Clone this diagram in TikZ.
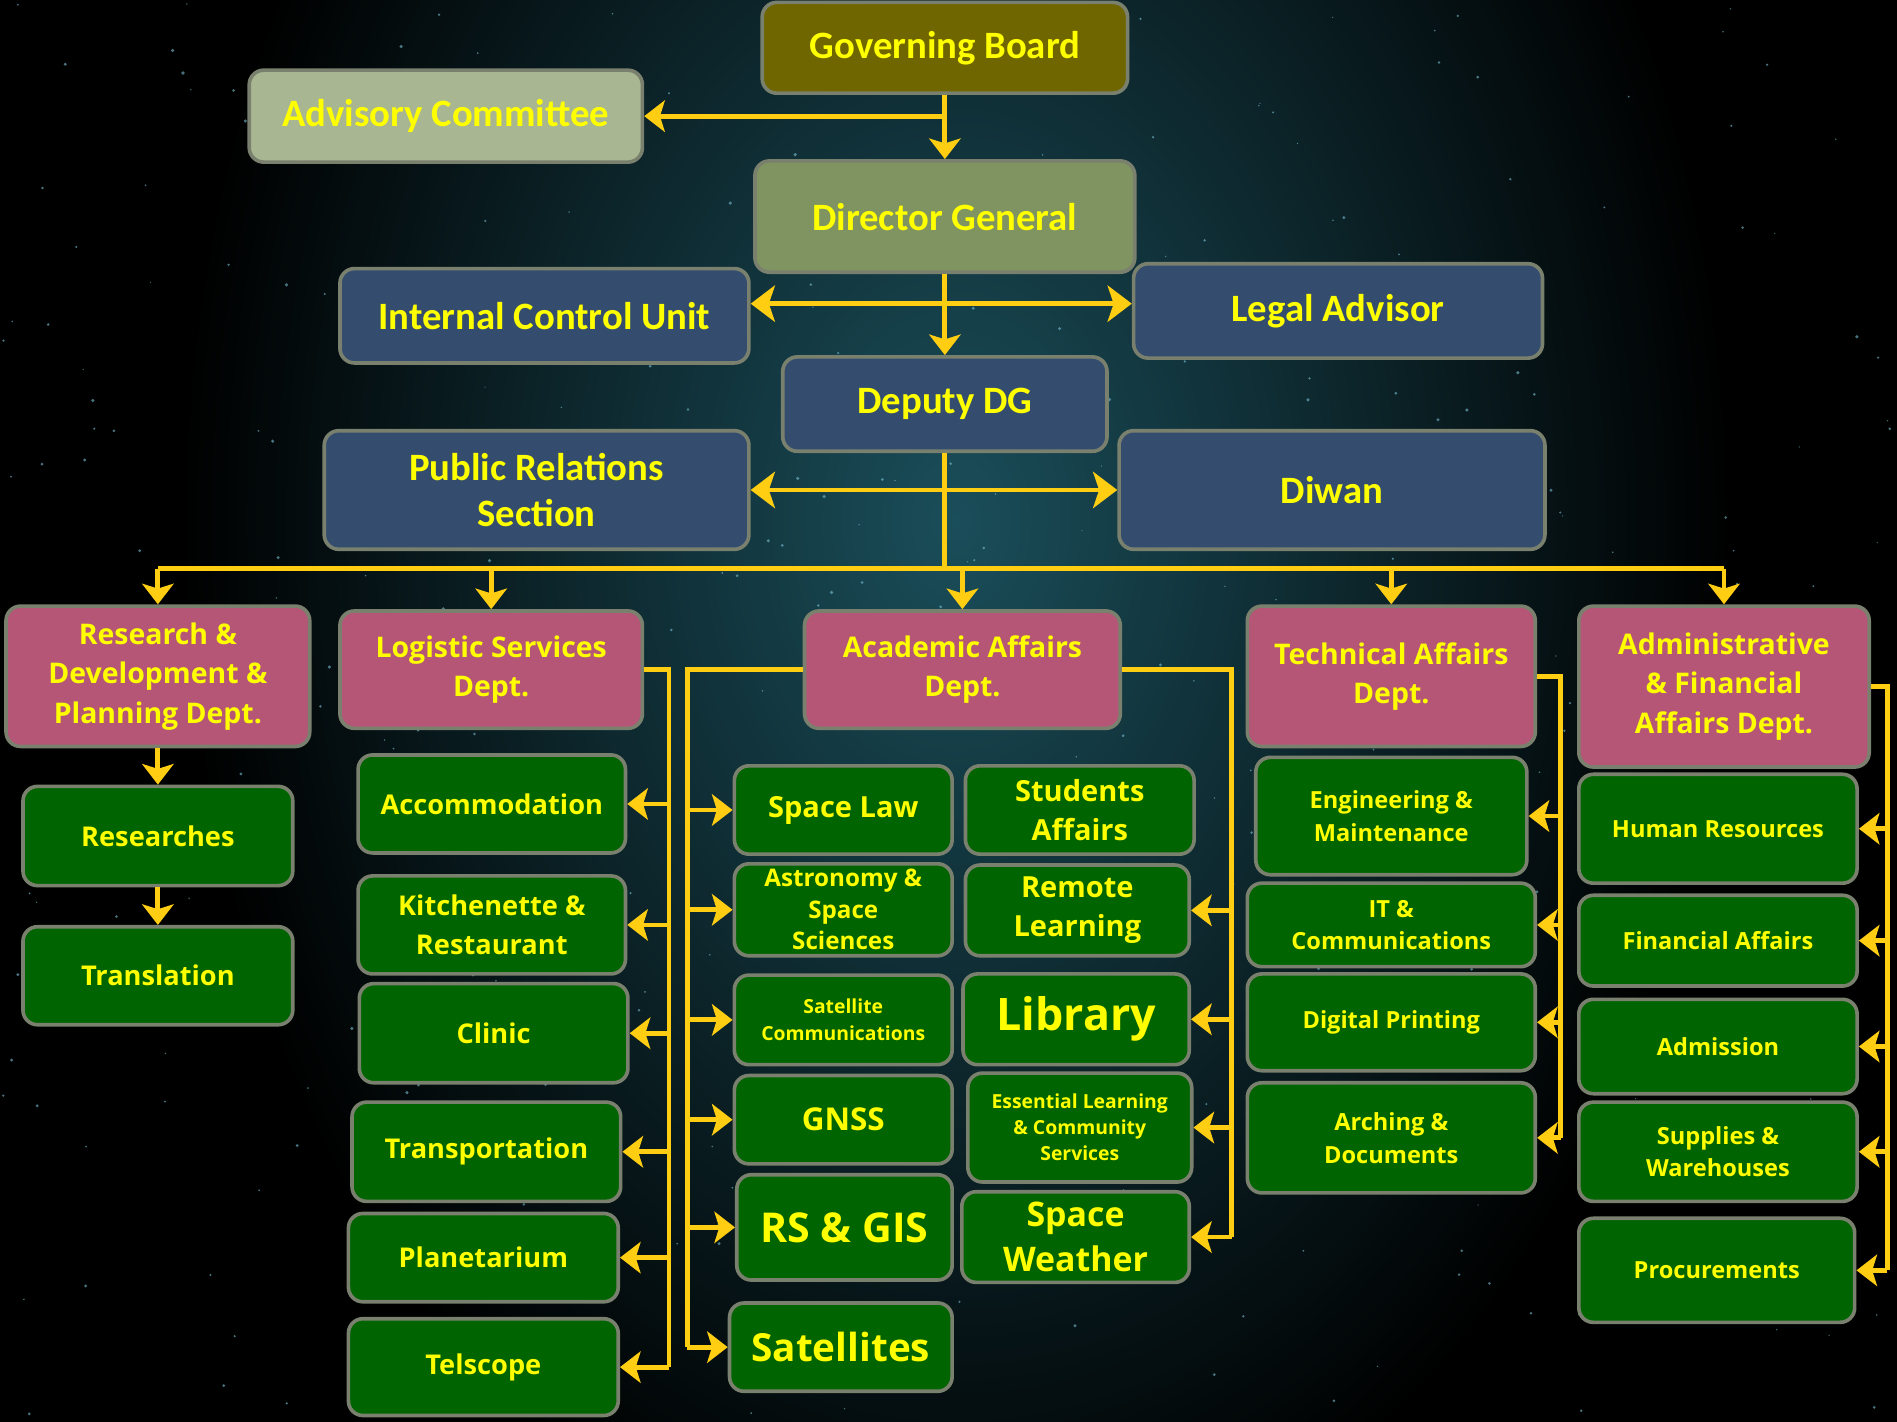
\documentclass[tikz,border=0pt]{standalone}
\usepackage{fontspec}
\setmainfont{Open Sans}
\newfontfamily\topfont{Carlito}
\usetikzlibrary{arrows.meta}

\definecolor{linkyellow}{RGB}{255,206,18}
\definecolor{txtyellow}{RGB}{255,255,0}
\definecolor{boxedge}{RGB}{122,128,110}
\definecolor{boardolive}{RGB}{112,102,0}
\definecolor{advsage}{RGB}{168,182,145}
\definecolor{dgsage}{RGB}{127,148,96}
\definecolor{slate}{RGB}{52,77,110}
\definecolor{deptpink}{RGB}{181,86,118}
\definecolor{unitgreen}{RGB}{0,100,0}
\definecolor{nebula}{RGB}{26,78,90}
\definecolor{starblue}{RGB}{120,190,210}

\tikzset{
  box/.style={draw=boxedge, line width=3pt, rounded corners=12pt, text=txtyellow, align=center, inner sep=0pt},
  topbox/.style={box, font=\topfont\bfseries\fontsize{32}{38}\selectfont},
  deptbox/.style={box, fill=deptpink, font=\bfseries\fontsize{23.5}{32.5}\selectfont},
  unitbox/.style={box, fill=unitgreen, font=\bfseries\fontsize{22.5}{32}\selectfont},
  smallunit/.style={unitbox, font=\bfseries\fontsize{19.5}{27}\selectfont},
  link/.style={draw=linkyellow, line width=4pt},
  arr/.style={link, -{Stealth[length=17pt,width=26pt,inset=4pt]}},
  twoway/.style={link, {Stealth[length=20pt,width=30pt,inset=5pt]}-{Stealth[length=20pt,width=30pt,inset=5pt]}}
}

\begin{document}
\begin{tikzpicture}[x=1pt,y=-1pt]
\useasboundingbox (0,0) rectangle (1568,1175);
% space background
\fill[black] (0,0) rectangle (1568,1175);
\begin{scope}
  \clip (0,0) rectangle (1568,1175);
  \shade[inner color=nebula, outer color=black] (790,430) ellipse (640 and 900);
  \pgfmathsetseed{11}
  \foreach \s in {1,...,360}
    \fill[starblue, opacity=0.6] ({rnd*1568},{rnd*1175}) circle ({0.5+rnd});
\end{scope}

% top of the chart
\node[topbox, fill=boardolive, minimum width=302, minimum height=75] (board) at (781,39.5) {Governing Board};
\node[topbox, fill=advsage, minimum width=325, minimum height=76] (advisory) at (368.5,96) {Advisory Committee};
\node[topbox, fill=dgsage, minimum width=314, minimum height=92] (dg) at (781,179) {Director General};
\node[topbox, fill=slate, minimum width=338, minimum height=78] (icu) at (450,261) {Internal Control Unit};
\node[topbox, fill=slate, minimum width=338, minimum height=78] (legal) at (1106,257) {Legal Advisor};
\node[topbox, fill=slate, minimum width=268, minimum height=78] (deputy) at (781,334) {Deputy DG};
\node[topbox, fill=slate, minimum width=351, minimum height=98] (pr) at (443.5,405) {Public Relations\\Section};
\node[topbox, fill=slate, minimum width=352, minimum height=98] (diwan) at (1101,405) {Diwan};

% departments
\node[deptbox, minimum width=251, minimum height=116] (research) at (130.5,559) {Research \&\\Development \&\\Planning Dept.};
\node[deptbox, minimum width=250, minimum height=97] (logistic) at (406,553.5) {Logistic Services\\Dept.};
\node[deptbox, minimum width=261, minimum height=97] (academic) at (795.5,553.5) {Academic Affairs\\Dept.};
\node[deptbox, minimum width=238, minimum height=116] (technical) at (1150,559) {Technical Affairs\\Dept.};
\node[deptbox, minimum width=240, minimum height=133] (admin) at (1425,567.5) {Administrative\\\& Financial\\Affairs Dept.};

% research units
\node[unitbox, minimum width=223, minimum height=82] (researches) at (130.5,691) {Researches};
\node[unitbox, minimum width=223, minimum height=81] (translation) at (130.5,806.5) {Translation};

% logistic units
\node[unitbox, minimum width=221, minimum height=81] (accom) at (406.5,664.5) {Accommodation};
\node[unitbox, minimum width=221, minimum height=81] (kitchen) at (406.5,764.5) {Kitchenette \&\\Restaurant};
\node[unitbox, minimum width=222, minimum height=82] (clinic) at (408,854) {Clinic};
\node[unitbox, minimum width=222, minimum height=82] (transport) at (402,952) {Transportation};
\node[unitbox, minimum width=223, minimum height=73] (planet) at (399.5,1039.5) {Planetarium};
\node[unitbox, minimum width=223, minimum height=80] (telescope) at (399.5,1130) {Telscope};

% academic units
\node[unitbox, font=\bfseries\fontsize{24}{32}\selectfont, minimum width=180, minimum height=73] (spacelaw) at (697,669.5) {Space Law};
\node[unitbox, font=\bfseries\fontsize{20}{26}\selectfont, minimum width=180, minimum height=76] (astro) at (697,752) {Astronomy \&\\Space\\Sciences};
\node[unitbox, font=\bfseries\fontsize{16}{22}\selectfont, minimum width=180, minimum height=74] (satcom) at (697,843) {Satellite\\Communications};
\node[unitbox, font=\bfseries\fontsize{26}{32}\selectfont, minimum width=180, minimum height=73] (gnss) at (697,925.5) {GNSS};
\node[unitbox, font=\bfseries\fontsize{34}{40}\selectfont, minimum width=178, minimum height=87] (rsgis) at (698,1014.5) {RS \& GIS};
\node[unitbox, font=\bfseries\fontsize{32}{38}\selectfont, minimum width=184, minimum height=73] (satellites) at (695,1113.5) {Satellites};
\node[unitbox, font=\bfseries\fontsize{24}{32}\selectfont, minimum width=189, minimum height=73] (students) at (892.5,669.5) {Students\\Affairs};
\node[unitbox, font=\bfseries\fontsize{24}{32}\selectfont, minimum width=185, minimum height=75] (remote) at (890.5,752.5) {Remote\\Learning};
\node[unitbox, font=\bfseries\fontsize{37}{42}\selectfont, minimum width=187, minimum height=75] (library) at (889.5,842.5) {Library};
\node[unitbox, font=\bfseries\fontsize{16}{21.5}\selectfont, minimum width=185, minimum height=90] (essential) at (892.5,932) {Essential Learning\\\& Community\\Services};
\node[unitbox, font=\bfseries\fontsize{28}{37}\selectfont, minimum width=188, minimum height=75] (weather) at (889,1022.5) {Space\\Weather};

% technical units
\node[smallunit, minimum width=224, minimum height=97] (engin) at (1150,674.5) {Engineering \&\\Maintenance};
\node[smallunit, minimum width=238, minimum height=69] (itcomm) at (1150,764.5) {IT \&\\Communications};
\node[smallunit, minimum width=238, minimum height=80] (printing) at (1150,845) {Digital Printing};
\node[smallunit, minimum width=238, minimum height=91] (arching) at (1150,940.5) {Arching \&\\Documents};

% administrative units
\node[smallunit, minimum width=230, minimum height=90] (hr) at (1420,685) {Human Resources};
\node[smallunit, minimum width=230, minimum height=75] (finance) at (1420,777.5) {Financial Affairs};
\node[smallunit, minimum width=230, minimum height=78] (admission) at (1420,865) {Admission};
\node[smallunit, minimum width=230, minimum height=82] (supplies) at (1420,952) {Supplies \&\\Warehouses};
\node[smallunit, minimum width=228, minimum height=86] (procure) at (1419,1050) {Procurements};

% rails
\coordinate (iculine) at (783,251);
\coordinate (bus) at (785,470);
\coordinate (lograil) at (553,0);
\coordinate (acadleft) at (568,0);
\coordinate (acadright) at (1018,0);
\coordinate (techrail) at (1290,0);
\coordinate (adminrail) at (1560,0);

% connectors
\draw[arr] (board.south) -- (dg.north);
\draw[arr] (board.south |- advisory.east) -- (advisory.east);
\draw[arr] (dg.south) -- (deputy.north);
\draw[twoway] (icu.east |- iculine) -- (legal.west |- iculine);
\draw[link] (deputy.south) -- (deputy.south |- bus);
\draw[twoway] (pr.east) -- (diwan.west);
\draw[link] (research.north |- bus) -- (admin.north |- bus);
\foreach \d in {research,logistic,academic,technical,admin}
  \draw[arr] (\d.north |- bus) -- (\d.north);

\draw[arr] (research.south) -- (researches.north);
\draw[arr] (researches.south) -- (translation.north);

\draw[link] (logistic.east) -| (lograil |- telescope.east);
\foreach \u in {accom,kitchen,clinic,transport,planet,telescope}
  \draw[arr] (lograil |- \u.east) -- (\u.east);

\draw[link] (academic.west) -| (acadleft |- satellites.west);
\foreach \u in {spacelaw,astro,satcom,gnss,rsgis,satellites}
  \draw[arr] (acadleft |- \u.west) -- (\u.west);
\draw[link] (academic.east) -| (acadright |- weather.east);
\foreach \u in {remote,library,essential,weather}
  \draw[arr] (acadright |- \u.east) -- (\u.east);

\draw[link] (technical.east) -| (techrail |- arching.east);
\foreach \u in {engin,itcomm,printing,arching}
  \draw[arr] (techrail |- \u.east) -- (\u.east);

\draw[link] (admin.east) -| (adminrail |- procure.east);
\foreach \u in {hr,finance,admission,supplies,procure}
  \draw[arr] (adminrail |- \u.east) -- (\u.east);
\end{tikzpicture}
\end{document}
